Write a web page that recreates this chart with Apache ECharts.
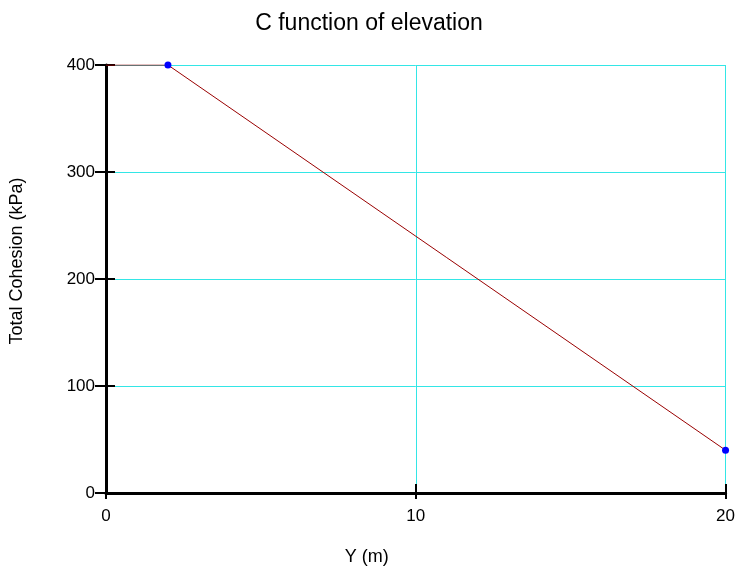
<!DOCTYPE html>
<html>
<head>
<meta charset="utf-8">
<script src="https://cdn.jsdelivr.net/npm/echarts@6/dist/echarts.min.js"></script>
<style>html,body{margin:0;padding:0;background:#fff;}#c{width:738px;height:571px;}</style>
</head>
<body>
<div id="c"></div>
<script>
var titleText = 'C function of elevation';
var xName = 'Y (m)';
var yName = 'Total Cohesion (kPa)';
var xValues = [0, 2, 20];
var yValues = [400, 400, 40];
var showPoint = [false, true, true];

var chart = echarts.init(document.getElementById('c'));
var font = 'Liberation Sans, Arial, sans-serif';
var gridColor = '#33e6e6';
var data = xValues.map(function (x, i) {
  return { value: [x, yValues[i]], symbolSize: showPoint[i] ? 7 : 0 };
});
chart.setOption({
  animation: false,
  backgroundColor: '#fff',
  title: {
    text: titleText, left: 'center', top: 7,
    textStyle: { fontFamily: font, fontSize: 23, fontWeight: 'normal', color: '#000' }
  },
  grid: { left: 104, right: 11, top: 65, bottom: 77, containLabel: false },
  xAxis: [{
    type: 'value', min: 0, max: 20, interval: 10,
    name: xName, nameLocation: 'middle', nameGap: 55,
    nameTextStyle: { fontFamily: font, fontSize: 18, color: '#000', padding: [0, 98, 0, 0] },
    axisLine: { onZero: false, lineStyle: { color: '#000', width: 3 } },
    axisTick: { show: true, length: 6, lineStyle: { color: '#000', width: 2 } },
    axisLabel: { fontFamily: font, fontSize: 17, color: '#000', margin: 15 },
    splitLine: { show: true, lineStyle: { color: gridColor, width: 1 } }
  }, {
    type: 'value', min: 0, max: 20, interval: 10, position: 'bottom',
    axisLine: { show: false },
    axisTick: { show: true, inside: true, length: 9, lineStyle: { color: '#000', width: 2 } },
    axisLabel: { show: false },
    splitLine: { show: false, lineStyle: { color: gridColor, width: 1 } }
  }],
  yAxis: [{
    type: 'value', min: 0, max: 400, interval: 100,
    name: yName, nameLocation: 'middle', nameGap: 80, nameRotate: 90,
    nameTextStyle: { fontFamily: font, fontSize: 18, color: '#000', padding: [0, 0, 0, 36] },
    axisLine: { show: true, onZero: false, lineStyle: { color: '#000', width: 3 } },
    axisTick: { show: true, length: 11, lineStyle: { color: '#000', width: 2 } },
    axisLabel: { fontFamily: font, fontSize: 17, color: '#000', margin: 11 },
    splitLine: { show: true, lineStyle: { color: gridColor, width: 1 } }
  }, {
    type: 'value', min: 0, max: 400, interval: 100, position: 'left',
    axisLine: { show: false },
    axisTick: { show: true, inside: true, length: 9, lineStyle: { color: '#000', width: 2 } },
    axisLabel: { show: false },
    splitLine: { show: false, lineStyle: { color: gridColor, width: 1 } }
  }],
  series: [{
    type: 'line', data: data, symbol: 'circle',
    lineStyle: { color: '#990000', width: 1 },
    itemStyle: { color: '#0000ff' }
  }]
});
</script>
</body>
</html>
